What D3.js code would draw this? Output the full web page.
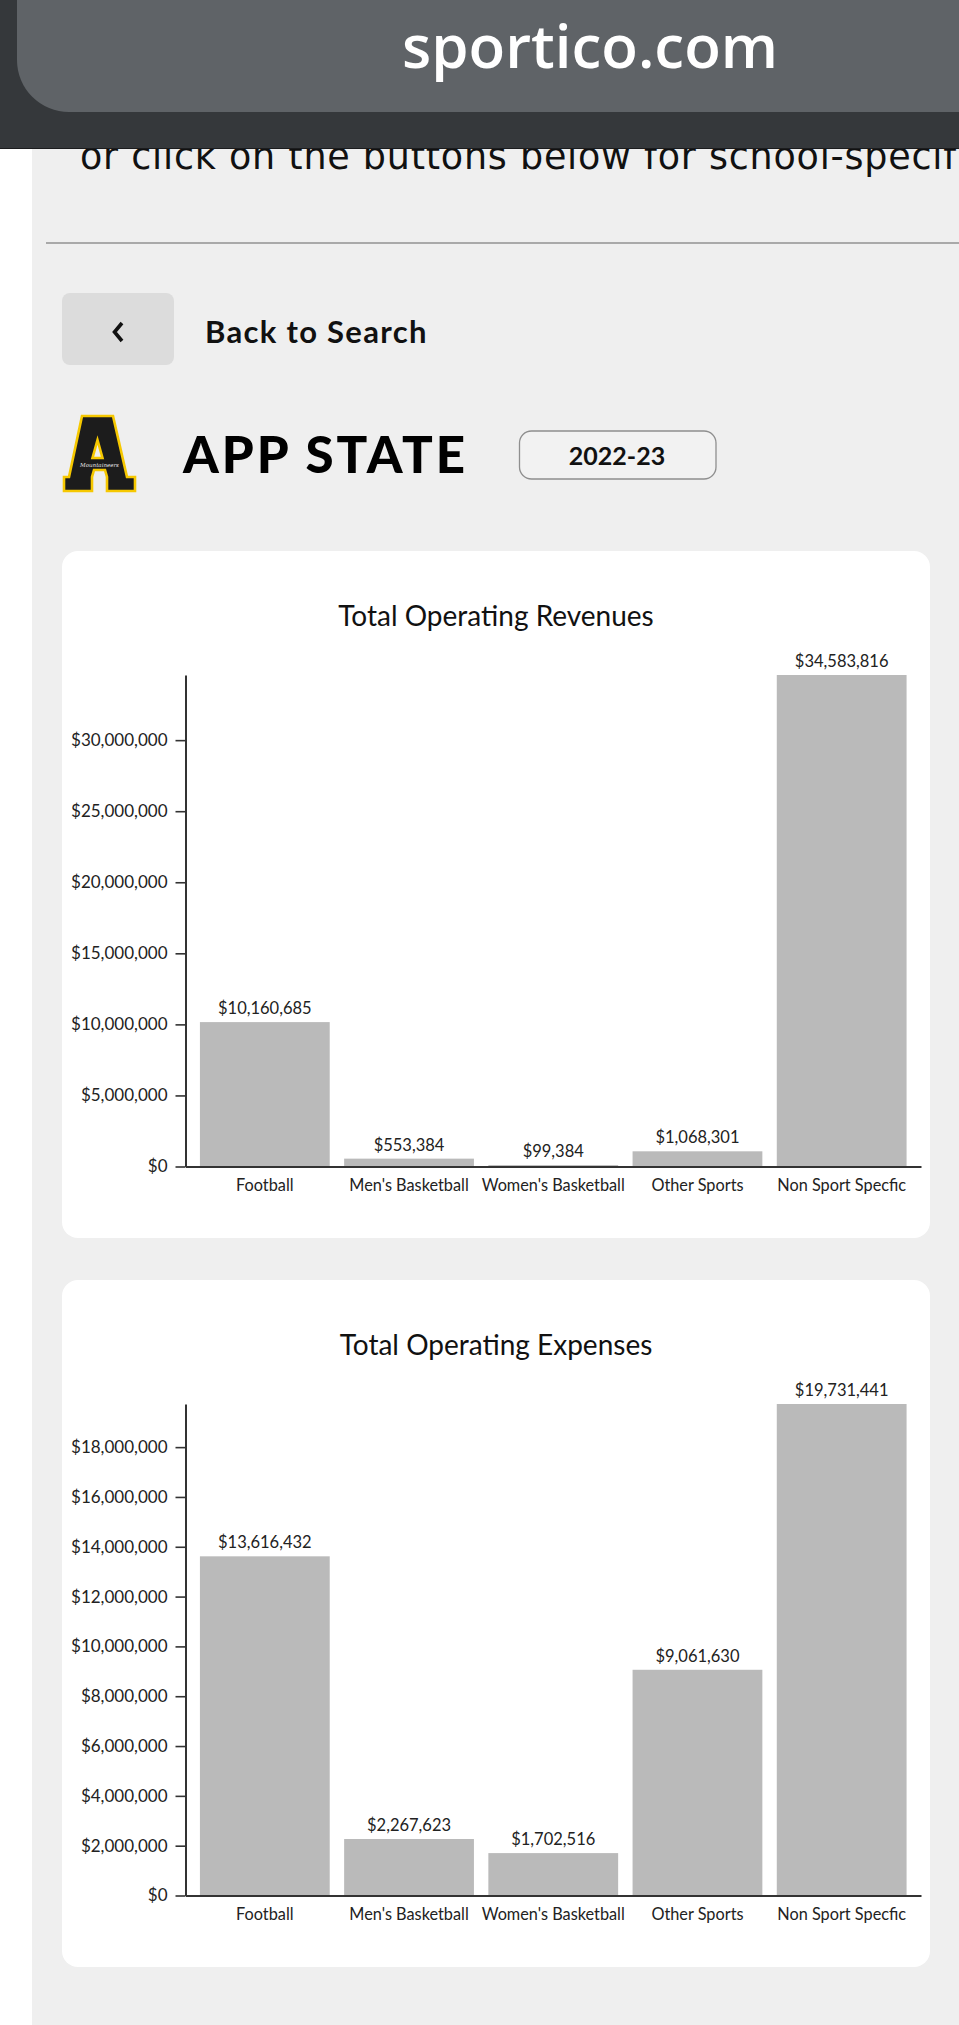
<!DOCTYPE html>
<html>
<head>
<meta charset="utf-8">
<script src="https://cdn.jsdelivr.net/npm/d3@7"></script>
<style>
  html, body { margin: 0; padding: 0; background: #efefef; }
  svg { display: block; }
</style>
</head>
<body>
<script>
const categories = ["Football", "Men's Basketball", "Women's Basketball", "Other Sports", "Non Sport Specfic"];
const revenues = [10160685, 553384, 99384, 1068301, 34583816];
const expenses = [13616432, 2267623, 1702516, 9061630, 19731441];
const revenueTicks = [0, 5000000, 10000000, 15000000, 20000000, 25000000, 30000000];
const expenseTicks = [0, 2000000, 4000000, 6000000, 8000000, 10000000, 12000000, 14000000, 16000000, 18000000];
const chartTitles = ["Total Operating Revenues", "Total Operating Expenses"];

const W = 959, H = 2025;
const FONT = "Lato, 'Open Sans', sans-serif";
const svg = d3.select("body").append("svg").attr("width", W).attr("height", H);

// page background
svg.append("rect").attr("width", W).attr("height", H).attr("fill", "#efefef");
svg.append("rect").attr("x", 0).attr("y", 0).attr("width", 32).attr("height", H).attr("fill", "#ffffff");

// intro text (partly hidden under the header)
svg.append("text").attr("x", 80).attr("y", 169)
  .attr("font-family", "'DejaVu Sans', sans-serif").attr("font-size", 36.5).attr("fill", "#111")
  .attr("textLength", 876).attr("lengthAdjust", "spacing")
  .text("or click on the buttons below for school-specif");

// header
svg.append("rect").attr("x", 0).attr("y", 0).attr("width", W).attr("height", 148).attr("fill", "#35383b");
svg.append("rect").attr("x", 17).attr("y", -80).attr("width", 1100).attr("height", 192).attr("rx", 52).attr("fill", "#5f6367");
svg.append("line").attr("x1", 0).attr("x2", W).attr("y1", 148.5).attr("y2", 148.5).attr("stroke", "#1b1c1e").attr("stroke-width", 1);
svg.append("text").attr("x", 590).attr("y", 68).attr("text-anchor", "middle")
  .attr("font-family", "'Open Sans', sans-serif").attr("font-weight", 600).attr("font-size", 60)
  .attr("fill", "#ffffff").text("sportico.com");

// divider
svg.append("rect").attr("x", 46).attr("y", 242).attr("width", W - 46).attr("height", 2).attr("fill", "#a9a9a9");

// back button
svg.append("rect").attr("x", 62).attr("y", 293).attr("width", 112).attr("height", 72).attr("rx", 8).attr("fill", "#dcdcdc");
svg.append("path").attr("d", "M122,323 L114.5,332 L122,341").attr("fill", "none")
  .attr("stroke", "#111").attr("stroke-width", 3.6).attr("stroke-linejoin", "miter");
svg.append("text").attr("x", 205).attr("y", 343)
  .attr("font-family", FONT).attr("font-weight", 700).attr("font-size", 31).attr("letter-spacing", 1.3).attr("fill", "#111")
  .text("Back to Search");

// logo
const logo = svg.append("g").attr("transform", "translate(64,416)");
logo.append("path")
  .attr("d", "M18,0 L49,0 L63,61 L71,61 L71,75 L43,75 L43,61 L41,54 L30,54 L28,61 L28,75 L0,75 L0,61 L5,61 Z M33.5,24 L38.5,42 L28.5,42 Z")
  .attr("fill", "#1c1c1c").attr("fill-rule", "evenodd")
  .attr("stroke", "#f6c800").attr("stroke-width", 2.6).attr("stroke-linejoin", "miter");
logo.append("text").attr("x", 35.5).attr("y", 51).attr("text-anchor", "middle")
  .attr("font-family", "'DejaVu Serif', serif").attr("font-style", "italic").attr("font-size", 5.5)
  .attr("fill", "#e8e8e8").text("Mountaineers");

svg.append("text").attr("x", 183).attr("y", 473)
  .attr("font-family", FONT).attr("font-weight", 900).attr("font-size", 51).attr("letter-spacing", 3).attr("fill", "#000")
  .text("APP STATE");

// year pill
svg.append("rect").attr("x", 519.5).attr("y", 431).attr("width", 196.5).attr("height", 48).attr("rx", 12)
  .attr("fill", "#f2f2f2").attr("stroke", "#8f8f8f").attr("stroke-width", 1.3);
svg.append("text").attr("x", 617).attr("y", 465).attr("text-anchor", "middle")
  .attr("font-family", FONT).attr("font-weight", 700).attr("font-size", 25).attr("fill", "#111")
  .text("2022-23");

// charts
const fmt = d3.format("$,");
function drawChart(top, title, values, ticks) {
  const g = svg.append("g");
  g.append("rect").attr("x", 62).attr("y", top).attr("width", 868).attr("height", 687).attr("rx", 16).attr("fill", "#ffffff");
  g.append("text").attr("x", 496).attr("y", top + 75).attr("text-anchor", "middle")
    .attr("font-family", FONT).attr("font-size", 28).attr("fill", "#111").text(title);

  const y0 = top + 615.5, y1 = top + 124;
  const x = d3.scaleBand().domain(categories).range([185.5, 921]).paddingInner(0.1).paddingOuter(0.1);
  const y = d3.scaleLinear().domain([0, d3.max(values)]).range([y0, y1]);

  g.selectAll("rect.bar").data(values).join("rect").attr("class", "bar")
    .attr("x", (d, i) => x(categories[i])).attr("width", x.bandwidth())
    .attr("y", d => y(d)).attr("height", d => y0 - y(d)).attr("fill", "#bababa");

  g.selectAll("text.val").data(values).join("text").attr("class", "val")
    .attr("x", (d, i) => x(categories[i]) + x.bandwidth() / 2).attr("y", d => y(d) - 8)
    .attr("text-anchor", "middle").attr("font-family", FONT).attr("font-size", 16.5).attr("fill", "#222")
    .text(d => fmt(d));

  const yAxis = g.append("g").attr("transform", "translate(185.5,0)")
    .call(d3.axisLeft(y).tickValues(ticks).tickFormat(fmt).tickSize(10).tickSizeOuter(0).tickPadding(8));
  yAxis.select(".domain").attr("stroke", "#333").attr("stroke-width", 2);
  yAxis.selectAll(".tick line").attr("stroke", "#333").attr("stroke-width", 1.6);
  yAxis.selectAll(".tick text").attr("font-family", FONT).attr("font-size", 17).attr("fill", "#222");

  const xAxis = g.append("g").attr("transform", `translate(0,${y0})`)
    .call(d3.axisBottom(x).tickSize(0).tickSizeOuter(0).tickPadding(13));
  xAxis.select(".domain").attr("stroke", "#333").attr("stroke-width", 2);
  xAxis.selectAll(".tick text").attr("font-family", FONT).attr("font-size", 16.3).attr("fill", "#222");
}
drawChart(551, chartTitles[0], revenues, revenueTicks);
drawChart(1280, chartTitles[1], expenses, expenseTicks);
</script>
</body>
</html>
